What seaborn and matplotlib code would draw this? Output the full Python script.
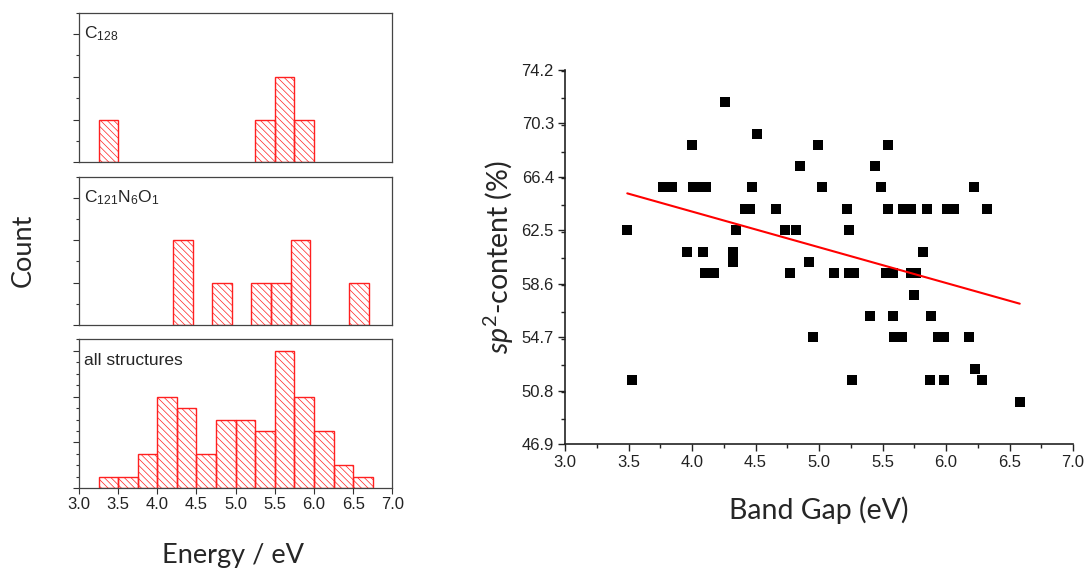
import numpy as np
import pandas as pd
import seaborn as sns
import matplotlib.pyplot as plt
from matplotlib.ticker import MultipleLocator, NullFormatter

sns.set_style("white")
plt.rcParams['font.family'] = ['Liberation Sans', 'DejaVu Sans']
plt.rcParams['mathtext.fontset'] = 'custom'
plt.rcParams['mathtext.rm'] = 'Lato'
plt.rcParams['mathtext.it'] = 'Lato:italic'
plt.rcParams['hatch.linewidth'] = 0.5

# histogram data: bin edges (eV) and counts per bin
c128_edges = [3.25, 3.5, 3.75, 4.0, 4.25, 4.5, 4.75, 5.0, 5.25, 5.5, 5.75, 6.0]
c128_counts = [1, 0, 0, 0, 0, 0, 0, 0, 1, 2, 1]

cno_edges = [4.2, 4.45, 4.7, 4.95, 5.2, 5.45, 5.7, 5.95, 6.2, 6.45, 6.7]
cno_counts = [2, 0, 1, 0, 1, 1, 2, 0, 0, 1]

all_edges = [3.25, 3.5, 3.75, 4.0, 4.25, 4.5, 4.75, 5.0, 5.25, 5.5, 5.75,
             6.0, 6.25, 6.5, 6.75]
all_counts = [1, 1, 3, 8, 7, 3, 6, 6, 5, 12, 8, 5, 2, 1]

# scatter data: band gap (eV) vs sp2 content (%)
band_gap = [3.49, 3.525, 3.77, 3.84, 4.005, 4.04, 4.11, 4.0, 4.26, 4.51,
            4.47, 4.42, 4.457, 4.344, 3.96, 4.09, 4.325, 4.32, 4.10, 4.17,
            4.66, 4.73, 4.82, 4.85, 4.995, 5.546, 5.44, 5.02, 5.49, 6.22,
            5.22, 5.54, 5.66, 5.72, 5.85, 6.01, 6.06, 6.32, 5.236, 5.82,
            4.92, 4.77, 5.12, 5.236, 5.276, 5.525, 5.58, 5.72, 5.76, 5.75,
            5.40, 5.585, 5.88, 4.95, 5.59, 5.65, 5.94, 5.98, 6.18, 6.23,
            5.26, 5.87, 5.98, 6.28, 6.58]
sp2 = [62.5, 51.56, 65.63, 65.63, 65.63, 65.63, 65.63, 68.75, 71.88, 69.53,
       65.63, 64.06, 64.06, 62.5, 60.94, 60.94, 60.94, 60.16, 59.38, 59.38,
       64.06, 62.5, 62.5, 67.19, 68.75, 68.75, 67.19, 65.63, 65.63, 65.63,
       64.06, 64.06, 64.06, 64.06, 64.06, 64.06, 64.06, 64.06, 62.5, 60.94,
       60.16, 59.38, 59.38, 59.38, 59.38, 59.38, 59.38, 59.38, 59.38, 57.81,
       56.25, 56.25, 56.25, 54.69, 54.69, 54.69, 54.69, 54.69, 54.69, 52.34,
       51.56, 51.56, 51.56, 51.56, 50.0]

sp2_ticks = [46.9, 50.8, 54.7, 58.6, 62.5, 66.4, 70.3, 74.2]
gap_ticks = [3.0, 3.5, 4.0, 4.5, 5.0, 5.5, 6.0, 6.5, 7.0]

fig = plt.figure(figsize=(10.86, 5.71), dpi=100)

panels = [
    ([0.0727, 0.7158, 0.2886, 0.262], c128_edges, c128_counts,
     r'C$_{\mathregular{128}}$', 3.5, 1),
    ([0.0727, 0.4308, 0.2886, 0.2597], cno_edges, cno_counts,
     r'C$_{\mathregular{121}}$N$_{\mathregular{6}}$O$_{\mathregular{1}}$', 3.5, 1),
    ([0.0727, 0.1448, 0.2886, 0.261], all_edges, all_counts,
     'all structures', 13, 4),
]
for i, (pos, edges, counts, label, ymax, major) in enumerate(panels):
    ax = fig.add_axes(pos)
    e = np.array(edges)
    hist_df = pd.DataFrame({'energy': (e[:-1] + e[1:]) / 2,
                            'count': counts})
    sns.histplot(data=hist_df, x='energy', weights='count', bins=edges,
                 ax=ax, facecolor='none', edgecolor='#ff2020', linewidth=1.0,
                 hatch='\\' * 5)
    for p in list(ax.patches):
        if p.get_height() == 0:
            p.remove()
    ax.set_xlim(3.0, 7.0)
    ax.set_ylim(0, ymax)
    ax.set_xlabel('')
    ax.set_ylabel('')
    ax.yaxis.set_major_locator(MultipleLocator(major))
    ax.yaxis.set_minor_locator(MultipleLocator(major / (4 if major == 4 else 2)))
    ax.yaxis.set_major_formatter(NullFormatter())
    ax.tick_params(axis='y', which='both', left=True, direction='out',
                   length=4, width=0.8, color='#333333')
    ax.tick_params(axis='y', which='minor', length=2.5)
    if i < 2:
        ax.set_xticks([])
    else:
        ax.set_xticks(gap_ticks)
        ax.set_xticklabels([f'{t:.1f}' for t in gap_ticks])
        ax.tick_params(axis='x', bottom=True, direction='out', length=4,
                       width=0.8, labelsize=12, color='#333333', pad=2,
                       labelcolor='#222222')
    for s in ax.spines.values():
        s.set_color('#444444')
        s.set_linewidth(0.9)
    ax.text(0.015, 0.86, label, transform=ax.transAxes, fontsize=12.5,
            ha='left', va='center')

fig.text(0.021, 1 - 250 / 571, 'Count', rotation=90, ha='center',
         va='center', fontsize=19.5, family='Lato')
fig.text(233 / 1086, 1 - 555 / 571, 'Energy / eV', ha='center',
         va='center', fontsize=19.5, family='Lato')

# scatter panel
ax = fig.add_axes([0.5203, 0.2224, 0.4678, 0.655])
df = pd.DataFrame({'gap': band_gap, 'sp2': sp2})
sns.scatterplot(data=df, x='gap', y='sp2', marker='s', s=46, color='black',
                linewidth=0, ax=ax)
sns.regplot(data=df, x='gap', y='sp2', scatter=False, ci=None, truncate=True,
            color='red', line_kws={'lw': 1.5}, ax=ax)
ax.set_xlim(3.0, 7.0)
ax.set_ylim(46.9, 74.2)
ax.set_xticks(gap_ticks)
ax.set_xticklabels([f'{t:.1f}' for t in gap_ticks])
ax.set_yticks(sp2_ticks)
ax.set_yticklabels([f'{t:.1f}' for t in sp2_ticks])
ax.xaxis.set_minor_locator(MultipleLocator(0.25))
ax.yaxis.set_minor_locator(MultipleLocator(1.95))
ax.tick_params(which='both', direction='out', left=True, bottom=True,
               color='#222222', width=1.0)
ax.tick_params(which='major', length=5, labelsize=12, pad=3,
               labelcolor='#222222')
ax.tick_params(which='minor', length=3)
sns.despine(ax=ax)
for s in ['left', 'bottom']:
    ax.spines[s].set_color('#222222')
    ax.spines[s].set_linewidth(1.2)
ax.set_xlabel('Band Gap (eV)', fontsize=20.5, family='Lato', labelpad=19)
ax.set_ylabel(r'$\it{sp}^{2}$-content (%)', fontsize=20.5, family='Lato',
              labelpad=4)

fig.savefig('out.png', dpi=100)
